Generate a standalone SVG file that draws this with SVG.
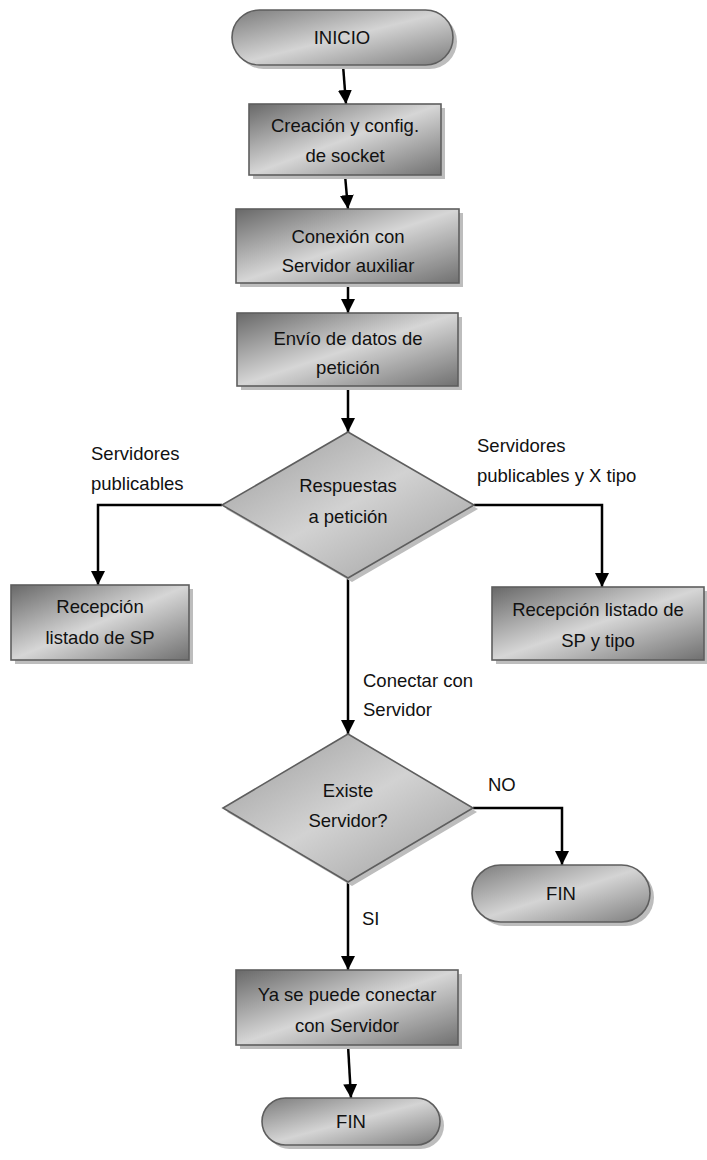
<svg xmlns="http://www.w3.org/2000/svg" width="707" height="1160" viewBox="0 0 707 1160">
<style>
text{font-family:"Liberation Sans",Arial,sans-serif;font-size:18.5px;fill:#111}
.c{text-anchor:middle}
.shape{stroke:#5e5e5e;stroke-width:1.6}
.box{fill:url(#gBox)}
.dia{fill:url(#gDia)}
.term{fill:url(#gTerm)}
.sh{fill:#bdbdbd;stroke:none}
.con{fill:none;stroke:#000;stroke-width:2.5;marker-end:url(#arr)}
</style>
<defs>
<linearGradient id="gBox" x1="0" y1="0" x2="1" y2="1">
<stop offset="0" stop-color="#686868"/>
<stop offset="0.5" stop-color="#d6d6d6"/>
<stop offset="1" stop-color="#707070"/>
</linearGradient>
<linearGradient id="gDia" x1="0" y1="0" x2="1" y2="1">
<stop offset="0" stop-color="#9a9a9a"/>
<stop offset="0.5" stop-color="#d2d2d2"/>
<stop offset="1" stop-color="#9c9c9c"/>
</linearGradient>
<linearGradient id="gTerm" x1="0" y1="0" x2="1" y2="1">
<stop offset="0" stop-color="#7c7c7c"/>
<stop offset="0.5" stop-color="#d4d4d4"/>
<stop offset="1" stop-color="#7c7c7c"/>
</linearGradient>
<marker id="arr" markerUnits="userSpaceOnUse" viewBox="0 0 14 14" markerWidth="14" markerHeight="14" refX="14" refY="7" orient="auto">
<path d="M0,0 L14,7 L0,14 z" fill="#000"/>
</marker>
</defs>

<g id="connectors">
<path class="con" d="M343,65 L346,104"/>
<path class="con" d="M345,175 L348,209"/>
<path class="con" d="M348,283 L348,313"/>
<path class="con" d="M348,386 L348,432"/>
<path class="con" d="M222,505 L98,505 L98,585"/>
<path class="con" d="M474,505 L602,505 L602,587"/>
<path class="con" d="M348,578 L348,734"/>
<path class="con" d="M473,808 L562,808 L562,865"/>
<path class="con" d="M348,882 L348,970"/>
<path class="con" d="M348,1045 L351,1098"/>
</g>

<g id="inicio">
<rect class="sh" x="236" y="14" width="221" height="55" rx="27.5"/>
<rect class="shape term" x="232" y="10" width="221" height="55" rx="27.5"/>
<text class="c" x="342" y="44">INICIO</text>
</g>

<g id="creacion">
<rect class="sh" x="253" y="108" width="192" height="71"/>
<rect class="shape box" x="249" y="104" width="192" height="71"/>
<text class="c" x="345" y="132">Creación y config.</text>
<text class="c" x="345" y="162">de socket</text>
</g>

<g id="conexion">
<rect class="sh" x="240" y="213" width="223" height="74"/>
<rect class="shape box" x="236" y="209" width="223" height="74"/>
<text class="c" x="348" y="243">Conexión con</text>
<text class="c" x="348" y="272">Servidor auxiliar</text>
</g>

<g id="envio">
<rect class="sh" x="241" y="317" width="221" height="73"/>
<rect class="shape box" x="237" y="313" width="221" height="73"/>
<text class="c" x="348" y="345">Envío de datos de</text>
<text class="c" x="348" y="374">petición</text>
</g>

<g id="respuestas">
<polygon class="sh" points="352,436 478,509 352,582 226,509"/>
<polygon class="shape dia" points="348,432 474,505 348,578 222,505"/>
<text class="c" x="348" y="492">Respuestas</text>
<text class="c" x="348" y="523">a petición</text>
</g>

<g id="recepcion-sp">
<rect class="sh" x="15" y="589" width="178" height="75"/>
<rect class="shape box" x="11" y="585" width="178" height="75"/>
<text class="c" x="100" y="613">Recepción</text>
<text class="c" x="100" y="644">listado de SP</text>
</g>

<g id="recepcion-tipo">
<rect class="sh" x="496" y="591" width="212" height="73"/>
<rect class="shape box" x="492" y="587" width="212" height="73"/>
<text class="c" x="598" y="616">Recepción listado de</text>
<text class="c" x="598" y="647">SP y tipo</text>
</g>

<g id="existe">
<polygon class="sh" points="352,738 477,812 352,886 227,812"/>
<polygon class="shape dia" points="348,734 473,808 348,882 223,808"/>
<text class="c" x="348" y="797">Existe</text>
<text class="c" x="348" y="827">Servidor?</text>
</g>

<g id="fin-no">
<rect class="sh" x="476" y="869" width="178" height="57" rx="28.5"/>
<rect class="shape term" x="472" y="865" width="178" height="57" rx="28.5"/>
<text class="c" x="561" y="900">FIN</text>
</g>

<g id="ya-conectar">
<rect class="sh" x="240" y="974" width="222" height="75"/>
<rect class="shape box" x="236" y="970" width="222" height="75"/>
<text class="c" x="347" y="1001">Ya se puede conectar</text>
<text class="c" x="347" y="1032">con Servidor</text>
</g>

<g id="fin">
<rect class="sh" x="266" y="1102" width="178" height="47" rx="23.5"/>
<rect class="shape term" x="262" y="1098" width="178" height="47" rx="23.5"/>
<text class="c" x="351" y="1128">FIN</text>
</g>

<g id="labels">
<text x="91" y="460">Servidores</text>
<text x="91" y="490">publicables</text>
<text x="477" y="452">Servidores</text>
<text x="477" y="482">publicables y X tipo</text>
<text x="363" y="687">Conectar con</text>
<text x="363" y="716">Servidor</text>
<text x="488" y="791">NO</text>
<text x="362" y="925">SI</text>
</g>
</svg>
